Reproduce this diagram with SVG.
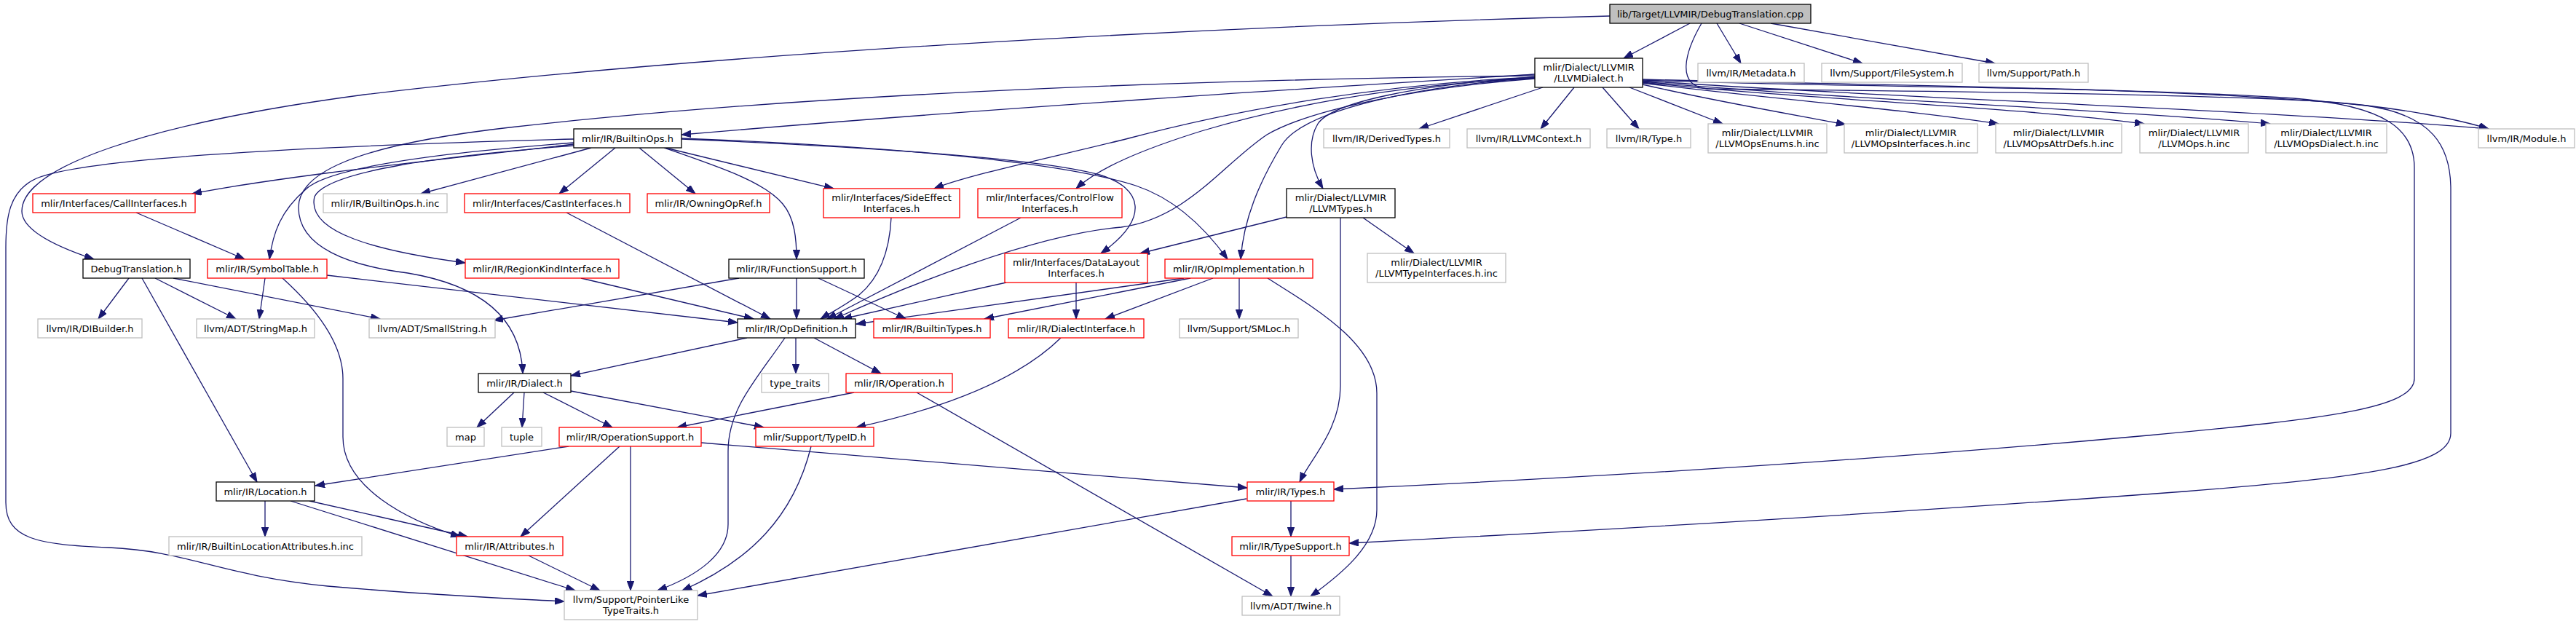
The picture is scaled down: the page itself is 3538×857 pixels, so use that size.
<svg xmlns="http://www.w3.org/2000/svg" width="3538" height="857" viewBox="0 0 3538 857">
<style>
rect{fill:#fff;stroke-width:1.3}
.b rect{stroke:#000}
.g rect{stroke:#bfbfbf}
.r rect{stroke:#ff0000}
.root rect{fill:#bfbfbf;stroke:#000}
text{font-family:"DejaVu Sans","Liberation Sans",sans-serif;font-size:13px;fill:#000;text-anchor:middle}
#edges path{fill:none;stroke:#191970;stroke-width:1.3;marker-end:url(#ah)}
</style>
<defs>
<marker id="ah" markerWidth="14" markerHeight="10" refX="13" refY="4.7" orient="auto" markerUnits="userSpaceOnUse"><path d="M0,0 L13,4.7 L0,9.4 z" fill="#191970" stroke="#191970" stroke-width="1"/></marker>
</defs>
<rect x="0" y="0" width="3538" height="857" style="fill:#fff;stroke:none"/>
<g id="edges">
<path d="M2321,32 L2230,80"/>
<path d="M2358,32 L2391,87"/>
<path d="M2389,32 L2558,87"/>
<path d="M2432,32 L2740,87"/>
<path d="M2211,22 C1700,35 1000,70 500,130 C200,170 30,230 30,290 C30,320 90,343 129,356"/>
<path d="M2337,32 C2315,70 2300,118 2345,122 C2600,125 3000,128 3200,140 C3300,148 3380,165 3418,177"/>
<path d="M2119,120 L1949,177"/>
<path d="M2162,120 L2116,177"/>
<path d="M2201,120 L2251,177"/>
<path d="M2238,120 L2366,170"/>
<path d="M2256,116 C2350,138 2450,155 2535,171"/>
<path d="M2256,114 C2420,135 2600,148 2745,170"/>
<path d="M2256,113 C2450,135 2750,145 2945,170"/>
<path d="M2256,112 C2500,135 2900,150 3118,170"/>
<path d="M2256,111 C2600,135 3100,150 3418,177"/>
<path d="M2256,110 C2500,120 2900,118 3150,135 C3280,145 3316,180 3316,230 L3316,520 C3316,560 3200,575 2950,598 C2600,630 2200,655 1832,672"/>
<path d="M2256,109 C2600,118 3000,120 3250,145 C3340,158 3366,200 3366,260 L3366,595 C3366,640 3250,655 3000,675 C2600,705 2200,728 1853,746"/>
<path d="M2108,102 C1900,115 1400,145 936,185"/>
<path d="M2108,104 C1600,110 1100,130 700,175 C480,200 410,240 410,285 C410,340 480,365 560,375 C650,390 715,430 718,513"/>
<path d="M2108,106 C1950,116 1830,140 1810,170 C1795,195 1800,230 1817,259"/>
<path d="M2108,106 C1900,115 1700,150 1550,190 C1450,215 1330,240 1283,259"/>
<path d="M2108,107 C1900,118 1750,150 1650,180 C1570,205 1510,230 1478,259"/>
<path d="M2108,108 C1950,120 1800,150 1740,185 C1680,225 1630,300 1540,312 C1420,322 1240,395 1146,438"/>
<path d="M2108,107 C1950,118 1790,150 1760,200 C1730,250 1708,300 1704,356"/>
<path d="M1767,298 L1566,348"/>
<path d="M1841,299 L1841,530 C1841,590 1800,630 1785,662"/>
<path d="M1872,299 L1942,348"/>
<path d="M812,203 L578,266"/>
<path d="M845,203 L768,266"/>
<path d="M878,203 L955,266"/>
<path d="M914,203 L1145,259"/>
<path d="M912,203 C990,230 1050,250 1075,280 C1092,300 1094,330 1094,356"/>
<path d="M936,191 C1150,200 1420,215 1510,240 C1570,258 1580,300 1512,348"/>
<path d="M936,190 C1200,200 1450,220 1560,255 C1620,275 1660,320 1686,356"/>
<path d="M788,198 C600,220 400,240 264,266"/>
<path d="M788,196 C600,210 450,230 420,260 C385,290 375,320 370,356"/>
<path d="M788,200 C600,215 450,235 432,270 C420,320 520,345 639,361"/>
<path d="M788,191 C450,200 120,215 50,245 C12,262 8,300 8,340 L8,690 C8,740 50,748 150,752 C260,757 300,790 450,805 C600,818 700,822 775,826"/>
<path d="M187,292 L336,356"/>
<path d="M778,292 L1058,438"/>
<path d="M798,382 L1035,438"/>
<path d="M364,382 L356,438"/>
<path d="M388,382 C430,420 471,470 471,520 L471,600 C471,670 560,715 632,737"/>
<path d="M449,378 L1013,443"/>
<path d="M177,382 L135,438"/>
<path d="M195,382 L353,662"/>
<path d="M213,382 L324,438"/>
<path d="M238,382 L522,438"/>
<path d="M1094,382 L1094,438"/>
<path d="M1124,382 L1244,438"/>
<path d="M1015,382 L678,440"/>
<path d="M1224,299 C1222,340 1210,380 1180,405 C1160,420 1140,430 1127,438"/>
<path d="M1402,299 L1136,438"/>
<path d="M1382,388 L1157,438"/>
<path d="M1478,388 L1478,438"/>
<path d="M1626,382 L1176,445"/>
<path d="M1635,382 L1352,438"/>
<path d="M1666,382 L1518,438"/>
<path d="M1702,382 L1702,438"/>
<path d="M1741,382 C1800,420 1891,470 1891,540 L1891,700 C1891,750 1840,790 1800,819"/>
<path d="M1026,464 L784,516"/>
<path d="M1093,464 L1093,513"/>
<path d="M1118,464 L1210,513"/>
<path d="M1078,464 C1040,520 1000,560 1000,620 L1000,720 C1000,760 960,790 903,811"/>
<path d="M706,539 L655,587"/>
<path d="M720,539 L717,587"/>
<path d="M746,539 L841,587"/>
<path d="M784,537 L1049,587"/>
<path d="M1173,539 L930,587"/>
<path d="M1259,539 L1748,819"/>
<path d="M1457,464 C1400,520 1300,560 1176,587"/>
<path d="M781,613 L433,667"/>
<path d="M851,613 L715,737"/>
<path d="M866,613 L866,811"/>
<path d="M963,608 L1713,670"/>
<path d="M1114,613 C1090,710 1030,770 937,811"/>
<path d="M1773,688 L1773,737"/>
<path d="M1712,685 L958,818"/>
<path d="M1773,763 L1773,819"/>
<path d="M364,688 L364,737"/>
<path d="M425,688 L642,737"/>
<path d="M399,688 L790,811"/>
<path d="M726,763 L824,811"/>
</g>
<g id="root" class="root"><rect x="2211" y="6" width="276" height="26"/><text x="2349" y="23.5">lib/Target/LLVMIR/DebugTranslation.cpp</text></g>
<g id="llvmdialect" class="b"><rect x="2108" y="80" width="148" height="40"/><text x="2182" y="96.5">mlir/Dialect/LLVMIR</text><text x="2182" y="111.5">/LLVMDialect.h</text></g>
<g id="metadata" class="g"><rect x="2332" y="87" width="146" height="26"/><text x="2405" y="104.5">llvm/IR/Metadata.h</text></g>
<g id="filesystem" class="g"><rect x="2502" y="87" width="193" height="26"/><text x="2598.5" y="104.5">llvm/Support/FileSystem.h</text></g>
<g id="path" class="g"><rect x="2718" y="87" width="150" height="26"/><text x="2793" y="104.5">llvm/Support/Path.h</text></g>
<g id="builtinops" class="b"><rect x="788" y="177" width="148" height="26"/><text x="862" y="194.5">mlir/IR/BuiltinOps.h</text></g>
<g id="derivedtypes" class="g"><rect x="1818" y="177" width="173" height="26"/><text x="1904.5" y="194.5">llvm/IR/DerivedTypes.h</text></g>
<g id="llvmcontext" class="g"><rect x="2015" y="177" width="169" height="26"/><text x="2099.5" y="194.5">llvm/IR/LLVMContext.h</text></g>
<g id="type" class="g"><rect x="2207" y="177" width="115" height="26"/><text x="2264.5" y="194.5">llvm/IR/Type.h</text></g>
<g id="opsenums" class="g"><rect x="2346" y="170" width="163" height="40"/><text x="2427.5" y="186.5">mlir/Dialect/LLVMIR</text><text x="2427.5" y="201.5">/LLVMOpsEnums.h.inc</text></g>
<g id="opsinterfaces" class="g"><rect x="2533" y="170" width="183" height="40"/><text x="2624.5" y="186.5">mlir/Dialect/LLVMIR</text><text x="2624.5" y="201.5">/LLVMOpsInterfaces.h.inc</text></g>
<g id="opsattrdefs" class="g"><rect x="2741" y="170" width="173" height="40"/><text x="2827.5" y="186.5">mlir/Dialect/LLVMIR</text><text x="2827.5" y="201.5">/LLVMOpsAttrDefs.h.inc</text></g>
<g id="opsops" class="g"><rect x="2939" y="170" width="149" height="40"/><text x="3013.5" y="186.5">mlir/Dialect/LLVMIR</text><text x="3013.5" y="201.5">/LLVMOps.h.inc</text></g>
<g id="opsdialect" class="g"><rect x="3112" y="170" width="166" height="40"/><text x="3195" y="186.5">mlir/Dialect/LLVMIR</text><text x="3195" y="201.5">/LLVMOpsDialect.h.inc</text></g>
<g id="module" class="g"><rect x="3404" y="177" width="132" height="26"/><text x="3470" y="194.5">llvm/IR/Module.h</text></g>
<g id="callif" class="r"><rect x="45" y="266" width="223" height="26"/><text x="156.5" y="283.5">mlir/Interfaces/CallInterfaces.h</text></g>
<g id="builtinopsinc" class="g"><rect x="444" y="266" width="170" height="26"/><text x="529" y="283.5">mlir/IR/BuiltinOps.h.inc</text></g>
<g id="castif" class="r"><rect x="638" y="266" width="227" height="26"/><text x="751.5" y="283.5">mlir/Interfaces/CastInterfaces.h</text></g>
<g id="owningopref" class="r"><rect x="889" y="266" width="168" height="26"/><text x="973" y="283.5">mlir/IR/OwningOpRef.h</text></g>
<g id="sideeffect" class="r"><rect x="1131" y="259" width="187" height="40"/><text x="1224.5" y="275.5">mlir/Interfaces/SideEffect</text><text x="1224.5" y="290.5">Interfaces.h</text></g>
<g id="controlflow" class="r"><rect x="1343" y="259" width="198" height="40"/><text x="1442" y="275.5">mlir/Interfaces/ControlFlow</text><text x="1442" y="290.5">Interfaces.h</text></g>
<g id="llvmtypes" class="b"><rect x="1767" y="259" width="149" height="40"/><text x="1841.5" y="275.5">mlir/Dialect/LLVMIR</text><text x="1841.5" y="290.5">/LLVMTypes.h</text></g>
<g id="debugtranslationh" class="b"><rect x="114" y="356" width="147" height="26"/><text x="187.5" y="373.5">DebugTranslation.h</text></g>
<g id="symboltable" class="r"><rect x="285" y="356" width="164" height="26"/><text x="367" y="373.5">mlir/IR/SymbolTable.h</text></g>
<g id="regionkind" class="r"><rect x="639" y="356" width="211" height="26"/><text x="744.5" y="373.5">mlir/IR/RegionKindInterface.h</text></g>
<g id="functionsupport" class="b"><rect x="1001" y="356" width="186" height="26"/><text x="1094" y="373.5">mlir/IR/FunctionSupport.h</text></g>
<g id="datalayout" class="r"><rect x="1380" y="348" width="196" height="40"/><text x="1478" y="364.5">mlir/Interfaces/DataLayout</text><text x="1478" y="379.5">Interfaces.h</text></g>
<g id="opimplementation" class="r"><rect x="1600" y="356" width="203" height="26"/><text x="1701.5" y="373.5">mlir/IR/OpImplementation.h</text></g>
<g id="typeinterfaces" class="g"><rect x="1878" y="348" width="190" height="40"/><text x="1973" y="364.5">mlir/Dialect/LLVMIR</text><text x="1973" y="379.5">/LLVMTypeInterfaces.h.inc</text></g>
<g id="dibuilder" class="g"><rect x="52" y="438" width="143" height="26"/><text x="123.5" y="455.5">llvm/IR/DIBuilder.h</text></g>
<g id="stringmap" class="g"><rect x="270" y="438" width="162" height="26"/><text x="351" y="455.5">llvm/ADT/StringMap.h</text></g>
<g id="smallstring" class="g"><rect x="507" y="438" width="173" height="26"/><text x="593.5" y="455.5">llvm/ADT/SmallString.h</text></g>
<g id="opdefinition" class="b"><rect x="1013" y="438" width="162" height="26"/><text x="1094" y="455.5">mlir/IR/OpDefinition.h</text></g>
<g id="builtintypes" class="r"><rect x="1200" y="438" width="160" height="26"/><text x="1280" y="455.5">mlir/IR/BuiltinTypes.h</text></g>
<g id="dialectinterface" class="r"><rect x="1385" y="438" width="186" height="26"/><text x="1478" y="455.5">mlir/IR/DialectInterface.h</text></g>
<g id="smloc" class="g"><rect x="1620" y="438" width="163" height="26"/><text x="1701.5" y="455.5">llvm/Support/SMLoc.h</text></g>
<g id="dialect" class="b"><rect x="657" y="513" width="127" height="26"/><text x="720.5" y="530.5">mlir/IR/Dialect.h</text></g>
<g id="typetraits" class="g"><rect x="1046" y="513" width="92" height="26"/><text x="1092" y="530.5">type_traits</text></g>
<g id="operation" class="r"><rect x="1162" y="513" width="146" height="26"/><text x="1235" y="530.5">mlir/IR/Operation.h</text></g>
<g id="map" class="g"><rect x="614" y="587" width="51" height="26"/><text x="639.5" y="604.5">map</text></g>
<g id="tuple" class="g"><rect x="689" y="587" width="55" height="26"/><text x="716.5" y="604.5">tuple</text></g>
<g id="operationsupport" class="r"><rect x="768" y="587" width="195" height="26"/><text x="865.5" y="604.5">mlir/IR/OperationSupport.h</text></g>
<g id="typeid" class="r"><rect x="1038" y="587" width="162" height="26"/><text x="1119" y="604.5">mlir/Support/TypeID.h</text></g>
<g id="location" class="b"><rect x="297" y="662" width="135" height="26"/><text x="364.5" y="679.5">mlir/IR/Location.h</text></g>
<g id="types" class="r"><rect x="1713" y="662" width="119" height="26"/><text x="1772.5" y="679.5">mlir/IR/Types.h</text></g>
<g id="builtinlocattr" class="g"><rect x="232" y="737" width="265" height="26"/><text x="364.5" y="754.5">mlir/IR/BuiltinLocationAttributes.h.inc</text></g>
<g id="attributes" class="r"><rect x="627" y="737" width="146" height="26"/><text x="700" y="754.5">mlir/IR/Attributes.h</text></g>
<g id="typesupport" class="r"><rect x="1692" y="737" width="161" height="26"/><text x="1772.5" y="754.5">mlir/IR/TypeSupport.h</text></g>
<g id="pointerlike" class="g"><rect x="775" y="811" width="183" height="40"/><text x="866.5" y="827.5">llvm/Support/PointerLike</text><text x="866.5" y="842.5">TypeTraits.h</text></g>
<g id="twine" class="g"><rect x="1706" y="819" width="134" height="26"/><text x="1773" y="836.5">llvm/ADT/Twine.h</text></g>
</svg>
